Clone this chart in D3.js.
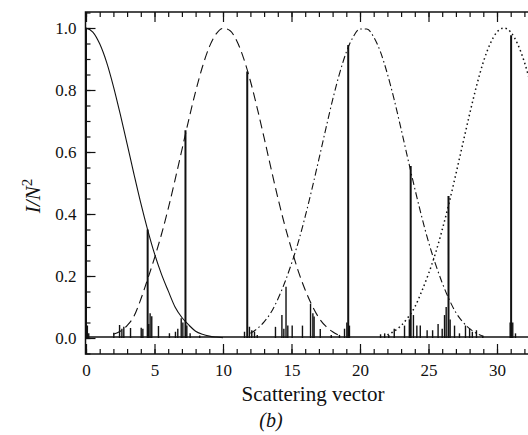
<!DOCTYPE html>
<meta charset="utf-8">
<script src="https://d3js.org/d3.v7.min.js"></script>
<style>
body { margin: 0; background: #fff; }
svg text { font-family: "Liberation Serif", "Times New Roman", "DejaVu Serif", serif !important; fill: #111; }
</style>
<body>
<svg class="chart" width="528" height="435"></svg>
<script>

// Gaussian envelopes (q step 0.5)
var solidQ = [0,0.5,1,1.5,2,2.5,3,3.5,4,4.5,5,5.5,6,6.5,7,7.5,8,8.5,9,9.5,10];
var solidI = [1.0,0.987,0.949,0.89,0.812,0.722,0.626,0.529,0.435,0.349,0.272,0.207,0.152,0.10,0.066,0.042,0.022,0.012,0.006,0.003,0.001];

var dashQ = [2,2.5,3,3.5,4,4.5,5,5.5,6,6.5,7,7.5,8,8.5,9,9.5,10,10.5,11,11.5,12,12.5,13,13.5,14,14.5,15,15.5,16,16.5,17,17.5,18,18.5];
var dashI = [0.012,0.022,0.04,0.07,0.125,0.19,0.258,0.333,0.417,0.51,0.607,0.704,0.795,0.875,0.939,0.981,0.999,0.992,0.959,0.903,0.829,0.741,0.646,0.548,0.453,0.365,0.287,0.215,0.155,0.105,0.065,0.038,0.02,0.008];

var dotdashQ = [12,12.5,13,13.5,14,14.5,15,15.5,16,16.5,17,17.5,18,18.5,19,19.5,20,20.5,21,21.5,22,22.5,23,23.5,24,24.5,25,25.5,26,26.5,27,27.5,28,28.5,29];
var dotdashI = [0.015,0.03,0.052,0.082,0.125,0.178,0.24,0.31,0.392,0.482,0.577,0.674,0.768,0.852,0.922,0.971,0.997,0.997,0.971,0.922,0.852,0.768,0.674,0.577,0.482,0.392,0.31,0.24,0.178,0.125,0.082,0.052,0.03,0.015,0.005];

var dotQ = [22,22.5,23,23.5,24,24.5,25,25.5,26,26.5,27,27.5,28,28.5,29,29.5,30,30.5,31,31.5,32,32.5,33,33.5];
var dotI = [0.01,0.022,0.04,0.066,0.10,0.15,0.207,0.272,0.349,0.435,0.529,0.626,0.722,0.812,0.89,0.949,0.987,1.0,0.987,0.949,0.89,0.812,0.722,0.626];

// diffraction spikes
var spikeQ = [0,0.1,0.2,2.03,2.45,2.62,2.76,3.25,4.03,4.15,4.5,4.58,4.68,4.8,5.29,6.09,6.53,6.7,6.95,7.07,7.26,7.36,7.6,8.3,
  11.57,11.77,11.93,12.1,12.3,12.5,13.83,14.3,14.44,14.6,14.73,15.05,15.8,16.39,16.56,16.65,17.1,17.9,18.5,18.87,19.04,19.14,19.23,
  21.5,21.8,22.1,22.5,23.25,23.6,23.7,23.9,24.15,24.4,24.9,25.3,25.7,26.0,26.17,26.29,26.46,26.58,26.9,27.26,27.7,28.0,28.2,28.5,28.96,
  30.96,31.03,31.15,31.35];
var spikeI = [1.0,0.04,0.015,0.017,0.042,0.03,0.036,0.032,0.033,0.03,0.35,0.045,0.08,0.07,0.039,0.015,0.02,0.03,0.064,0.05,0.67,0.04,0.015,0.008,
  0.02,0.86,0.036,0.025,0.02,0.01,0.036,0.074,0.03,0.165,0.04,0.04,0.04,0.11,0.08,0.069,0.029,0.01,0.01,0.03,0.05,0.945,0.04,
  0.012,0.015,0.01,0.03,0.04,0.06,0.555,0.074,0.04,0.04,0.025,0.025,0.045,0.03,0.074,0.1,0.458,0.06,0.04,0.015,0.04,0.03,0.02,0.025,0.008,
  0.05,0.977,0.05,0.015];

var yTicks = [0, 0.2, 0.4, 0.6, 0.8, 1.0];
var xTicks = [0, 5, 10, 15, 20, 25, 30];

var serif = "'Liberation Serif', 'Times New Roman', 'DejaVu Serif', serif";
var svg = d3.select(".chart");

var x = d3.scaleLinear().domain([0, 35]).range([86, 565.5]);
var y = d3.scaleLinear().domain([0, 1]).range([338, 28]);

var plotLeft = 85.5, plotTop = 12, plotBottom = 354;

svg.append("defs").append("clipPath").attr("id", "plot")
  .append("rect").attr("x", plotLeft).attr("y", plotTop).attr("width", 600).attr("height", plotBottom - plotTop);

var plot = svg.append("g").attr("clip-path", "url(#plot)");

function zip(a, b) { return a.map(function(v, i) { return [v, b[i]]; }); }

var line = d3.line().x(function(d) { return x(d[0]); }).y(function(d) { return y(d[1]); })
  .curve(d3.curveMonotoneX);

// baseline
plot.append("line")
  .attr("x1", x(0)).attr("x2", x(35))
  .attr("y1", y(0.003)).attr("y2", y(0.003))
  .attr("stroke", "#111").attr("stroke-width", 1.6);

plot.selectAll(".spike").data(zip(spikeQ, spikeI)).enter().append("line")
  .attr("class", "spike")
  .attr("x1", function(d) { return x(d[0]); }).attr("x2", function(d) { return x(d[0]); })
  .attr("y1", y(0)).attr("y2", function(d) { return y(d[1]); })
  .attr("stroke", "#111")
  .attr("stroke-width", function(d) { return d[1] > 0.3 ? 2 : 1.4; });

var curves = [
  [solidQ, solidI, null],
  [dashQ, dashI, "9,5"],
  [dotdashQ, dotdashI, "7,3,1.5,3"],
  [dotQ, dotI, "1.5,3"]
];
curves.forEach(function(c) {
  plot.append("path")
    .datum(zip(c[0], c[1]))
    .attr("d", line)
    .attr("fill", "none")
    .attr("stroke", "#111")
    .attr("stroke-width", c[2] == "1.5,3" ? 1.5 : 1.1)
    .attr("stroke-dasharray", c[2]);
});

// frame
svg.append("path")
  .attr("d", "M600," + plotTop + "H" + plotLeft + "V" + plotBottom + "H600")
  .attr("fill", "none").attr("stroke", "#111").attr("stroke-width", 1.5);

// ticks
var xMinor = d3.range(0, 36, 1);
var yMinor = d3.range(-0.05, 1.051, 0.05);

function styleAxis(g) {
  g.select(".domain").remove();
  g.attr("font-family", serif);
  g.selectAll("text").attr("font-size", 17).style("font-family", serif);
}

svg.append("g").attr("transform", "translate(0," + plotBottom + ")")
  .call(d3.axisBottom(x).tickValues(xMinor).tickSize(-5).tickFormat(""))
  .call(styleAxis);
svg.append("g").attr("transform", "translate(0," + plotBottom + ")")
  .call(d3.axisBottom(x).tickValues(xTicks).tickSize(-10).tickPadding(10).tickFormat(d3.format("d")))
  .call(styleAxis);

svg.append("g").attr("transform", "translate(0," + plotTop + ")")
  .call(d3.axisTop(x).tickValues(xMinor).tickSize(-5).tickFormat(""))
  .call(styleAxis);
svg.append("g").attr("transform", "translate(0," + plotTop + ")")
  .call(d3.axisTop(x).tickValues(xTicks).tickSize(-10).tickFormat(""))
  .call(styleAxis);

svg.append("g").attr("transform", "translate(" + plotLeft + ",0)")
  .call(d3.axisLeft(y).tickValues(yMinor).tickSize(-5).tickFormat(""))
  .call(styleAxis);
svg.append("g").attr("transform", "translate(" + plotLeft + ",0)")
  .call(d3.axisLeft(y).tickValues(yTicks).tickSize(-10).tickPadding(9).tickFormat(d3.format(".1f")))
  .call(styleAxis);

svg.selectAll(".tick line").attr("stroke", "#111").attr("stroke-width", 1.2);

// labels
svg.append("text")
  .attr("x", 313).attr("y", 401)
  .attr("text-anchor", "middle").attr("font-size", 21)
  .style("font-family", serif)
  .text("Scattering vector");

svg.append("text")
  .attr("x", 271).attr("y", 427)
  .attr("text-anchor", "middle").attr("font-size", 20).attr("font-style", "italic")
  .style("font-family", serif)
  .text("(b)");

var yl = svg.append("text")
  .attr("transform", "translate(40,196) rotate(-90)")
  .attr("text-anchor", "middle").attr("font-size", 21).attr("font-style", "italic")
  .style("font-family", serif);
yl.append("tspan").text("I/N");
yl.append("tspan").attr("dy", -8).attr("font-size", 15).attr("font-style", "normal").text("2");

</script>
</body>
